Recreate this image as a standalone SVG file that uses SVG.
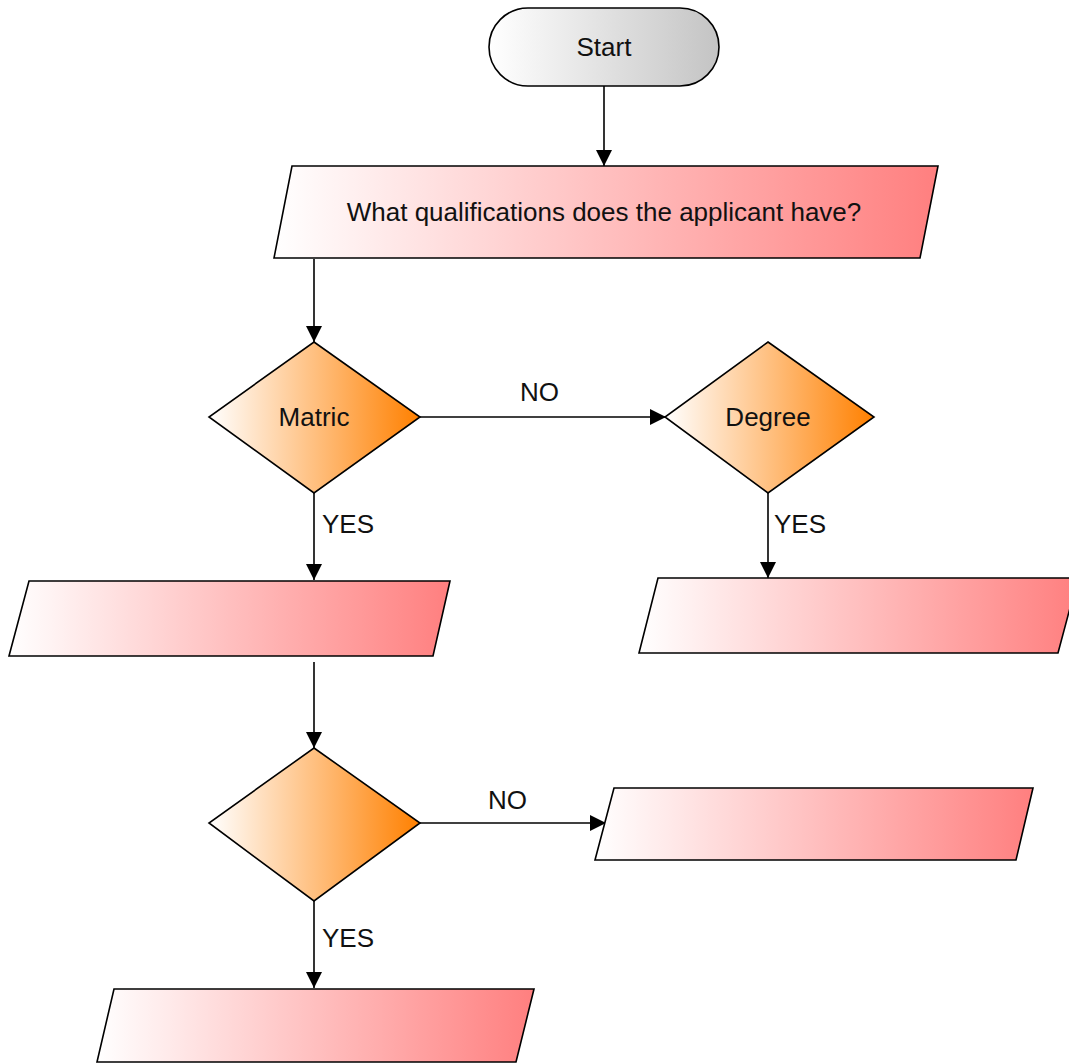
<svg xmlns="http://www.w3.org/2000/svg" width="1069" height="1063" viewBox="0 0 1069 1063">
<defs>
<linearGradient id="gGray" x1="0" y1="0" x2="1" y2="0"><stop offset="0" stop-color="#ffffff"/><stop offset="1" stop-color="#c4c4c4"/></linearGradient>
<linearGradient id="gRed" x1="0" y1="0" x2="1" y2="0"><stop offset="0" stop-color="#ffffff"/><stop offset="1" stop-color="#ff7f7f"/></linearGradient>
<linearGradient id="gOrange" x1="0" y1="0" x2="1" y2="0"><stop offset="0" stop-color="#ffffff"/><stop offset="1" stop-color="#ff8000"/></linearGradient>
<marker id="arr" markerWidth="16" markerHeight="16" refX="16" refY="8" orient="auto" markerUnits="userSpaceOnUse"><path d="M0,0 L16,8 L0,16 Z" fill="#000"/></marker>
</defs>
<style>
.shape{stroke:#000;stroke-width:1.6}
.red{fill:url(#gRed)}
.orange{fill:url(#gOrange)}
.lbl{font-family:"Liberation Sans",Arial,sans-serif;font-size:26px;fill:#111}
.c{text-anchor:middle}
.conn{stroke:#000;stroke-width:1.6;fill:none;marker-end:url(#arr)}
</style>
<rect width="1069" height="1063" fill="#fff"/>
<g id="connectors">
<path class="conn" d="M604,86 L604,166"/>
<path class="conn" d="M314,259 L314,342"/>
<path class="conn" d="M420,417 L666,417"/>
<path class="conn" d="M314,493 L314,580"/>
<path class="conn" d="M768,493 L768,578"/>
<path class="conn" d="M314,662 L314,748"/>
<path class="conn" d="M420,823 L606,823"/>
<path class="conn" d="M314,901 L314,988"/>
<text class="lbl" x="520" y="401">NO</text>
<text class="lbl" x="322" y="533">YES</text>
<text class="lbl" x="774" y="533">YES</text>
<text class="lbl" x="488" y="809">NO</text>
<text class="lbl" x="322" y="947">YES</text>
</g>
<g id="start">
<rect class="shape" x="489" y="8" width="230" height="78" rx="39" ry="39" fill="url(#gGray)"/>
<text class="lbl c" x="604" y="56">Start</text>
</g>
<g id="question">
<polygon class="shape red" points="292,166 938,166 920,258 274,258"/>
<text class="lbl c" x="604" y="221">What qualifications does the applicant have?</text>
</g>
<g id="matric">
<polygon class="shape orange" points="314,342 420,417 314,493 209,417"/>
<text class="lbl c" x="314" y="426">Matric</text>
</g>
<g id="degree">
<polygon class="shape orange" points="768,342 874,417 768,493 665,417"/>
<text class="lbl c" x="768" y="426">Degree</text>
</g>
<g id="box-left">
<polygon class="shape red" points="29,581 450,581 433,656 9,656"/>
</g>
<g id="box-right">
<polygon class="shape red" points="658,578 1078,578 1058,653 639,653"/>
</g>
<g id="decision2">
<polygon class="shape orange" points="314,748 420,823 314,901 209,823"/>
</g>
<g id="box-no">
<polygon class="shape red" points="614,788 1033,788 1016,860 595,860"/>
</g>
<g id="box-bottom">
<polygon class="shape red" points="114,989 534,989 516,1062 97,1062"/>
</g>
</svg>
